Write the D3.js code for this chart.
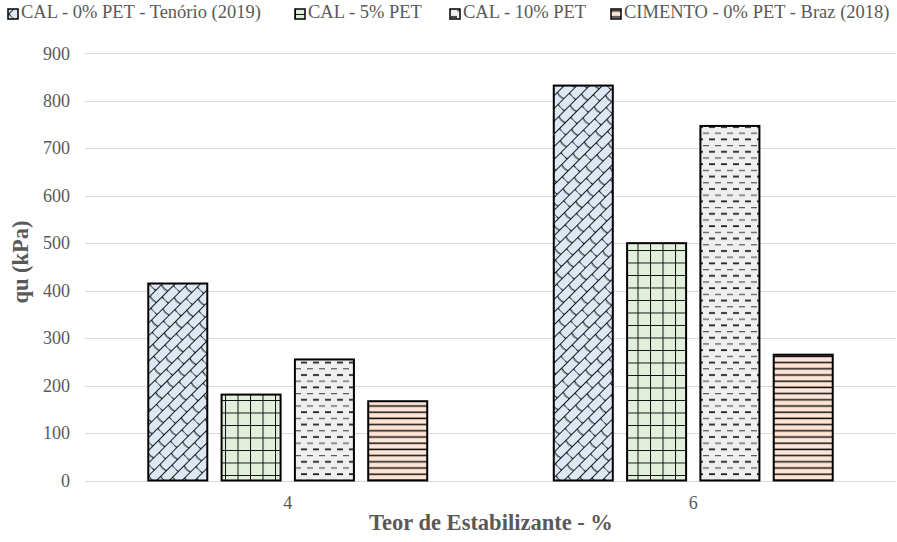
<!DOCTYPE html>
<html>
<head>
<meta charset="utf-8">
<script src="https://cdn.jsdelivr.net/npm/d3@7"></script>
<style>
  html, body { margin: 0; padding: 0; background: #fff; }
  svg { display: block; }
  text { font-family: 'Liberation Serif', 'Times New Roman', serif; }
</style>
</head>
<body>
<svg id="chart" width="897" height="542"></svg>
<script>
const categories = ["4", "6"];
const seriesNames = [
  "CAL - 0% PET - Tenório (2019)",
  "CAL - 5% PET",
  "CAL - 10% PET",
  "CIMENTO - 0% PET - Braz (2018)"
];
const values = [
  [415, 832],
  [181, 500],
  [255, 747],
  [167, 265]
];
const yTicks = [0, 100, 200, 300, 400, 500, 600, 700, 800, 900];

const svg = d3.select("#chart");
const textColor = "#595959";
const fontFamily = "'Liberation Serif', 'Times New Roman', serif";

// patterns
const defs = svg.append("defs");
// shingle / tilted brick (blue)
const p0 = defs.append("pattern").attr("id", "pat0").attr("patternUnits", "userSpaceOnUse")
  .attr("width", 16).attr("height", 18).attr("patternTransform", "rotate(-45)");
p0.append("rect").attr("width", 16).attr("height", 18).attr("fill", "#dde8f4");
p0.append("path").attr("d", "M0,0.5 L16,0.5 M0,9.5 L16,9.5")
  .attr("stroke", "#1a1a1a").attr("stroke-width", 1.1).attr("fill", "none");
p0.append("path").attr("d", "M1,0.5 Q-1,5 1,9.5 M9,9.5 Q7,14 9,18.5")
  .attr("stroke", "#1a1a1a").attr("stroke-width", 1.1).attr("fill", "none");
// large grid (green)
const p1 = defs.append("pattern").attr("id", "pat1").attr("patternUnits", "userSpaceOnUse")
  .attr("width", 12.5).attr("height", 12.5);
p1.append("rect").attr("width", 12.5).attr("height", 12.5).attr("fill", "#e2efda");
p1.append("path").attr("d", "M0,0 L0,12.5 M0,0 L12.5,0")
  .attr("stroke", "#111").attr("stroke-width", 2).attr("fill", "none");
// dashed horizontal (gray)
const p2 = defs.append("pattern").attr("id", "pat2").attr("patternUnits", "userSpaceOnUse")
  .attr("width", 12).attr("height", 12.4);
p2.append("rect").attr("width", 12).attr("height", 12.4).attr("fill", "#efefef");
p2.append("path").attr("d", "M1,3 L7,3")
  .attr("stroke", "#222").attr("stroke-width", 1.8).attr("fill", "none");
p2.append("path").attr("d", "M7,9.2 L12,9.2 M0,9.2 L1,9.2")
  .attr("stroke", "#555").attr("stroke-width", 1.3).attr("fill", "none");
// horizontal lines (peach)
const p3 = defs.append("pattern").attr("id", "pat3").attr("patternUnits", "userSpaceOnUse")
  .attr("width", 12).attr("height", 6.2);
p3.append("rect").attr("width", 12).attr("height", 6.2).attr("fill", "#fde4d4");
p3.append("path").attr("d", "M0,3 L12,3")
  .attr("stroke", "#111").attr("stroke-width", 1.5).attr("fill", "none");

const fills = ["url(#pat0)", "url(#pat1)", "url(#pat2)", "url(#pat3)"];

const mLeft = 85, mRight = 896, mTop = 53.3, mBottom = 480.5;

const x0 = d3.scaleBand().domain(categories).range([mLeft, mRight]).paddingInner(0).paddingOuter(0);
const x1 = d3.scaleBand().domain(d3.range(seriesNames.length)).range([0, x0.bandwidth()])
  .paddingInner(0.195).paddingOuter(0.863);
const y = d3.scaleLinear().domain([0, 900]).range([mBottom, mTop]);

// gridlines
svg.append("g").selectAll("line").data(yTicks).join("line")
  .attr("x1", mLeft).attr("x2", mRight)
  .attr("y1", d => Math.round(y(d)) + 0.5).attr("y2", d => Math.round(y(d)) + 0.5)
  .attr("stroke", "#d9d9d9").attr("stroke-width", 1);

// y axis labels
const yAxis = d3.axisLeft(y).tickValues(yTicks).tickSize(0).tickPadding(0);
const gy = svg.append("g").attr("transform", `translate(${mLeft - 15},0)`).call(yAxis);
gy.attr("font-family", null);
gy.select(".domain").remove();
gy.selectAll("text").attr("fill", textColor).style("font-family", fontFamily).style("font-size", "18px");

// x axis labels
const xAxis = d3.axisBottom(x0).tickSize(0).tickPadding(0);
const gx = svg.append("g").attr("transform", `translate(0,${mBottom + 16})`).call(xAxis);
gx.attr("font-family", null);
gx.select(".domain").remove();
gx.selectAll("text").attr("fill", textColor).style("font-family", fontFamily).style("font-size", "18px");

// bars
seriesNames.forEach((name, si) => {
  svg.append("g").selectAll("rect").data(categories).join("rect")
    .attr("x", (c) => x0(c) + x1(si))
    .attr("y", (c, ci) => y(values[si][ci]))
    .attr("width", x1.bandwidth())
    .attr("height", (c, ci) => y(0) - y(values[si][ci]))
    .attr("fill", fills[si])
    .attr("stroke", "#000").attr("stroke-width", 2);
});

// axis titles
svg.append("text")
  .attr("transform", `translate(23,262) rotate(-90)`)
  .attr("text-anchor", "middle").attr("dominant-baseline", "middle")
  .attr("fill", textColor).style("font-weight", "bold").style("font-size", "22.5px")
  .text("qu (kPa)");
svg.append("text")
  .attr("x", 491).attr("y", 530)
  .attr("text-anchor", "middle")
  .attr("fill", textColor).style("font-weight", "bold").style("font-size", "22.5px")
  .text("Teor de Estabilizante - %");

// legend
const legendX = [8, 295, 450, 611];
const lg = svg.append("g");
seriesNames.forEach((name, i) => {
  const g = lg.append("g").attr("transform", `translate(${legendX[i]},14)`);
  g.append("rect").attr("x", 0).attr("y", -5).attr("width", 10).attr("height", 10)
    .attr("fill", fills[i]).attr("stroke", "#000").attr("stroke-width", 1.5);
  g.append("text").attr("x", 13).attr("y", 0).attr("dominant-baseline", "middle")
    .attr("fill", textColor).style("font-size", "18.5px")
    .text(name);
});
</script>
</body>
</html>
